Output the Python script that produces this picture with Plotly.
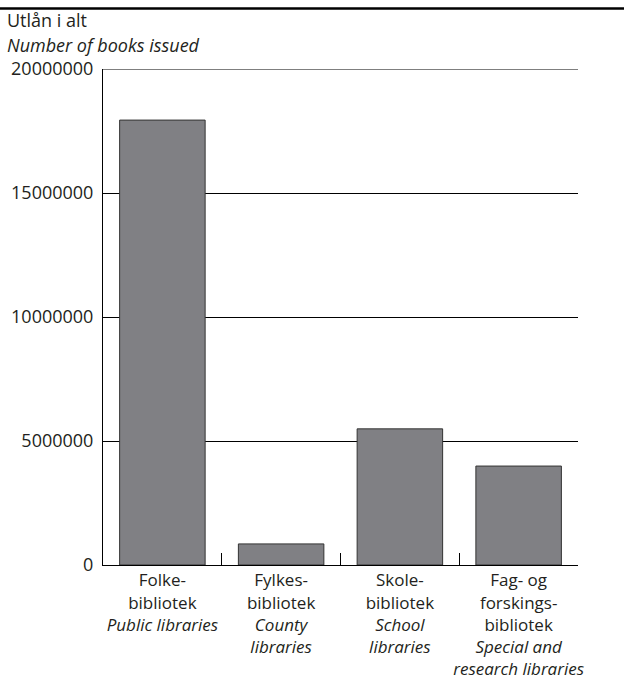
import plotly.graph_objects as go

categories = [
    "Folke-<br>bibliotek<br><i>Public libraries</i>",
    "Fylkes-<br>bibliotek<br><i>County</i><br><i>libraries</i>",
    "Skole-<br>bibliotek<br><i>School</i><br><i>libraries</i>",
    "Fag- og<br>forskings-<br>bibliotek<br><i>Special and</i><br><i>research libraries</i>",
]
values = [17940000, 850000, 5490000, 3990000]
y_ticks = [0, 5000000, 10000000, 15000000, 20000000]
y_tick_labels = ["0", "5000000", "10000000", "15000000", "20000000"]
title_no = "Utlån i alt"
title_en = "Number of books issued"

W, H = 624, 683
L, R, T, B = 103, 46, 69, 118
pw, ph = W - L - R, H - T - B

def px(x):
    return (x - L) / pw

def py(y):
    return (H - B - y) / ph

FONT = "Open Sans"
TXT = "#231f20"
FS = 18
FS_CAT = 17

fig = go.Figure()
fig.add_trace(go.Bar(
    x=categories, y=values,
    marker=dict(color="#808084", line=dict(color="#333333", width=1)),
    width=0.72,
))

fig.update_layout(
    width=W, height=H,
    margin=dict(l=L, r=R, t=T, b=B, autoexpand=False),
    paper_bgcolor="white", plot_bgcolor="white",
    showlegend=False,
    font=dict(family=FONT, size=FS, color=TXT),
)
fig.update_yaxes(
    range=[0, 20000000], tickvals=y_ticks, ticktext=y_tick_labels,
    showgrid=True, gridcolor="black", gridwidth=1,
    showline=True, linecolor="black", linewidth=1,
    zeroline=False, ticks="", ticklabelstandoff=5,
    tickfont=dict(family=FONT, size=FS, color=TXT),
    fixedrange=True,
)
fig.update_xaxes(
    showline=True, linecolor="black", linewidth=1,
    ticks="inside", tickson="boundaries", ticklen=12, tickcolor="black", tickwidth=1,
    showgrid=False, tickangle=0, ticklabelstandoff=0,
    tickfont=dict(family=FONT, size=FS_CAT, color=TXT),
    fixedrange=True,
)

# top gridline at the range edge
fig.add_shape(type="line", xref="paper", yref="y",
              x0=0, x1=1, y0=y_ticks[-1], y1=y_ticks[-1],
              line=dict(color="black", width=1))
# rule above the heading
fig.add_shape(type="line", xref="paper", yref="paper",
              x0=px(0), x1=px(W), y0=py(8.5), y1=py(8.5),
              line=dict(color="black", width=2.5))
fig.add_annotation(xref="paper", yref="paper", x=px(5), y=py(20),
                   xanchor="left", yanchor="middle", showarrow=False,
                   text=title_no, font=dict(family=FONT, size=FS, color=TXT))
fig.add_annotation(xref="paper", yref="paper", x=px(5), y=py(45),
                   xanchor="left", yanchor="middle", showarrow=False,
                   text="<i>" + title_en + "</i>", font=dict(family=FONT, size=FS, color=TXT))

fig.write_html("out.html", config={"displayModeBar": False},
               post_script="document.body.style.margin='0px';")
